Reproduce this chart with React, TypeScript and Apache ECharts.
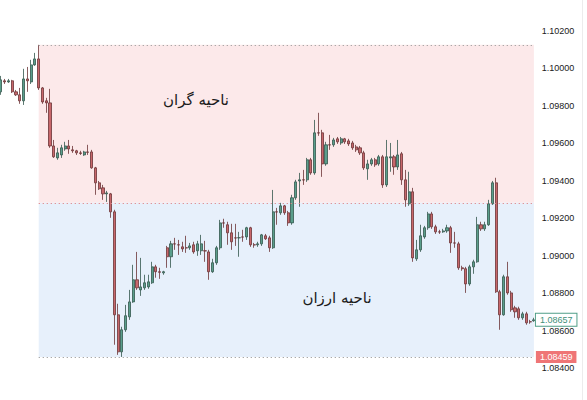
import React, { useEffect, useRef } from "react";
import * as echarts from "echarts";

// OHLC (EUR/USD style prices)
const opens = [
  1.09875, 1.09934, 1.09928, 1.09934, 1.09875, 1.09859, 1.09827, 1.09944, 1.09928, 1.10019,
  1.10051, 1.09896, 1.09827, 1.09816, 1.09586, 1.09522, 1.09538, 1.09570, 1.09586, 1.09565,
  1.09560, 1.09549, 1.09538, 1.09554, 1.09554, 1.09469, 1.09389, 1.09362, 1.09330, 1.09330,
  1.09234, 1.08684, 1.08486, 1.08604, 1.08673, 1.08753, 1.08871, 1.08817, 1.08828, 1.08833,
  1.08855, 1.08940, 1.08914, 1.08908, 1.09042, 1.08994, 1.09063, 1.09058, 1.09047, 1.09042,
  1.09042, 1.09058, 1.09026, 1.09026, 1.09026, 1.09020, 1.08914, 1.08962, 1.09042, 1.09175,
  1.09165, 1.09122, 1.09095, 1.09095, 1.09100, 1.09100, 1.09149, 1.09058, 1.09058, 1.09063,
  1.09106, 1.09095, 1.09042, 1.09234, 1.09229, 1.09266, 1.09229, 1.09175, 1.09309, 1.09399,
  1.09405, 1.09405, 1.09512, 1.09442, 1.09656, 1.09656, 1.09490, 1.09592, 1.09592, 1.09624,
  1.09602, 1.09624, 1.09613, 1.09602, 1.09581, 1.09576, 1.09549, 1.09464, 1.09490, 1.09512,
  1.09490, 1.09528, 1.09378, 1.09522, 1.09528, 1.09474, 1.09544, 1.09405, 1.09277, 1.09341,
  1.08983, 1.09031, 1.09100, 1.09149, 1.09223, 1.09154, 1.09127, 1.09127, 1.09132, 1.09149,
  1.09068, 1.09063, 1.08935, 1.08930, 1.08849, 1.08940, 1.08967, 1.09165, 1.09143, 1.09165,
  1.09277, 1.09389, 1.08807, 1.08684, 1.08887, 1.08801, 1.08721, 1.08716, 1.08668, 1.08689,
  1.08647, 1.08652,
];
const closes = [
  1.09939, 1.09928, 1.09934, 1.09875, 1.09859, 1.09827, 1.09944, 1.09934, 1.10019, 1.10051,
  1.09896, 1.09821, 1.09816, 1.09586, 1.09528, 1.09549, 1.09576, 1.09586, 1.09570, 1.09560,
  1.09549, 1.09546, 1.09554, 1.09552, 1.09469, 1.09389, 1.09357, 1.09330, 1.09335, 1.09234,
  1.08684, 1.08486, 1.08604, 1.08679, 1.08753, 1.08871, 1.08828, 1.08833, 1.08855, 1.08860,
  1.08940, 1.08914, 1.08911, 1.08914, 1.08994, 1.09063, 1.09062, 1.09057, 1.09036, 1.09041,
  1.09052, 1.09020, 1.09063, 1.09063, 1.09025, 1.08914, 1.08962, 1.09042, 1.09175, 1.09174,
  1.09122, 1.09074, 1.09094, 1.09096, 1.09099, 1.09149, 1.09058, 1.09057, 1.09063, 1.09111,
  1.09090, 1.09042, 1.09234, 1.09233, 1.09266, 1.09229, 1.09175, 1.09309, 1.09394, 1.09405,
  1.09404, 1.09512, 1.09442, 1.09656, 1.09655, 1.09490, 1.09592, 1.09591, 1.09618, 1.09608,
  1.09624, 1.09608, 1.09597, 1.09576, 1.09565, 1.09549, 1.09469, 1.09490, 1.09512, 1.09485,
  1.09528, 1.09378, 1.09528, 1.09528, 1.09474, 1.09538, 1.09405, 1.09298, 1.09341, 1.08988,
  1.09031, 1.09106, 1.09149, 1.09223, 1.09154, 1.09127, 1.09126, 1.09132, 1.09149, 1.09068,
  1.09067, 1.08935, 1.08930, 1.08849, 1.08940, 1.08967, 1.09165, 1.09143, 1.09165, 1.09277,
  1.09389, 1.08807, 1.08684, 1.08887, 1.08801, 1.08711, 1.08700, 1.08668, 1.08689, 1.08641,
  1.08646, 1.08657,
];
const highs = [
  1.09960, 1.09944, 1.09944, 1.09939, 1.09885, 1.09896, 1.09998, 1.10008, 1.10046, 1.10083,
  1.10126, 1.09901, 1.09843, 1.09891, 1.09618, 1.09576, 1.09592, 1.09608, 1.09618, 1.09586,
  1.09565, 1.09560, 1.09560, 1.09592, 1.09565, 1.09474, 1.09399, 1.09378, 1.09346, 1.09335,
  1.09245, 1.08743, 1.08620, 1.08737, 1.08817, 1.08951, 1.09020, 1.08988, 1.08898, 1.08898,
  1.08967, 1.08951, 1.08935, 1.08919, 1.09052, 1.09079, 1.09095, 1.09084, 1.09074, 1.09106,
  1.09068, 1.09074, 1.09079, 1.09111, 1.09079, 1.09031, 1.08983, 1.09052, 1.09191, 1.09197,
  1.09181, 1.09170, 1.09170, 1.09127, 1.09138, 1.09154, 1.09154, 1.09068, 1.09074, 1.09116,
  1.09116, 1.09106, 1.09351, 1.09255, 1.09282, 1.09271, 1.09239, 1.09325, 1.09405, 1.09442,
  1.09458, 1.09522, 1.09522, 1.09725, 1.09763, 1.09672, 1.09608, 1.09645, 1.09629, 1.09634,
  1.09634, 1.09629, 1.09624, 1.09613, 1.09592, 1.09586, 1.09560, 1.09512, 1.09522, 1.09522,
  1.09538, 1.09538, 1.09618, 1.09602, 1.09538, 1.09618, 1.09554, 1.09458, 1.09448, 1.09362,
  1.09084, 1.09165, 1.09159, 1.09234, 1.09234, 1.09165, 1.09138, 1.09143, 1.09165, 1.09159,
  1.09127, 1.09074, 1.08946, 1.08940, 1.08951, 1.08978, 1.09207, 1.09181, 1.09181, 1.09298,
  1.09399, 1.09416, 1.08817, 1.08898, 1.08967, 1.08812, 1.08732, 1.08727, 1.08700, 1.08700,
  1.08657, 1.08668,
];
const lows = [
  1.09859, 1.09917, 1.09923, 1.09869, 1.09853, 1.09811, 1.09805, 1.09875, 1.09917, 1.10014,
  1.09885, 1.09811, 1.09763, 1.09576, 1.09522, 1.09512, 1.09522, 1.09560, 1.09544, 1.09549,
  1.09538, 1.09538, 1.09533, 1.09538, 1.09464, 1.09325, 1.09351, 1.09298, 1.09287, 1.09202,
  1.08524, 1.08470, 1.08459, 1.08593, 1.08657, 1.08748, 1.08817, 1.08785, 1.08817, 1.08823,
  1.08849, 1.08882, 1.08876, 1.08898, 1.08935, 1.08935, 1.09031, 1.09004, 1.09020, 1.09015,
  1.09031, 1.09010, 1.08999, 1.09004, 1.08967, 1.08871, 1.08908, 1.08951, 1.09031, 1.09149,
  1.09058, 1.09031, 1.09052, 1.08994, 1.09074, 1.09084, 1.09047, 1.09042, 1.09047, 1.09052,
  1.09084, 1.09020, 1.09036, 1.09165, 1.09218, 1.09218, 1.09159, 1.09165, 1.09298, 1.09261,
  1.09378, 1.09394, 1.09432, 1.09432, 1.09640, 1.09421, 1.09480, 1.09565, 1.09581, 1.09597,
  1.09592, 1.09597, 1.09586, 1.09565, 1.09554, 1.09538, 1.09458, 1.09405, 1.09480, 1.09474,
  1.09480, 1.09362, 1.09367, 1.09448, 1.09432, 1.09458, 1.09378, 1.09261, 1.09266, 1.08967,
  1.08972, 1.09020, 1.09090, 1.09138, 1.09143, 1.09116, 1.09116, 1.09122, 1.09122, 1.09015,
  1.09042, 1.08924, 1.08919, 1.08801, 1.08839, 1.08903, 1.08962, 1.09132, 1.09132, 1.09159,
  1.09271, 1.08801, 1.08604, 1.08679, 1.08791, 1.08700, 1.08668, 1.08657, 1.08657, 1.08631,
  1.08636, 1.08647,
];

// Price levels drawn as zones / lines
const ZONE_TOP = 1.10126;
const ZONE_MID = 1.09282;
const ZONE_BOTTOM = 1.08459;
const LAST_PRICE = 1.08657;
const ZONE_START_INDEX = 10;

const AXIS_MIN = 1.082;
const AXIS_MAX = 1.104;
const AXIS_STEP = 0.002;

const EXPENSIVE_LABEL = "ناحیه گران";
const CHEAP_LABEL = "ناحیه ارزان";

const UP = "#5a9e8b";
const DOWN = "#c8676b";

// the chart canvas is a little larger than the window, shifted so that the
// 1.104 / 1.082 axis ends fall just outside the visible frame
const SHIFT_X = 5;
const SHIFT_Y = 10;

export default function App() {
  const ref = useRef<HTMLDivElement>(null);

  useEffect(() => {
    if (!ref.current) return;
    const chart = echarts.init(ref.current, null, { renderer: "svg" });
    const cats = opens.map((_, i) => String(i));
    const data = opens.map((o, i) => [o, closes[i], lows[i], highs[i]]);
    const first = cats[ZONE_START_INDEX];
    const last = cats[cats.length - 1];
    const beforeLast = cats[cats.length - 2];
    const font = "Liberation Sans";
    const dotted = [1.2, 2.8];

    chart.setOption({
      animation: false,
      backgroundColor: "#ffffff",
      grid: { left: 4, right: 51.2, top: 3.56, bottom: 4.6, containLabel: false },
      title: [
        {
          text: EXPENSIVE_LABEL,
          left: 196 + SHIFT_X,
          top: 100 + SHIFT_Y,
          textAlign: "center",
          textVerticalAlign: "middle",
          padding: 0,
          textStyle: {
            fontSize: 15,
            fontWeight: "normal",
            fontFamily: "DejaVu Sans",
            color: "#1c1c1c",
          },
        },
        {
          text: CHEAP_LABEL,
          left: 337 + SHIFT_X,
          top: 298 + SHIFT_Y,
          textAlign: "center",
          textVerticalAlign: "middle",
          padding: 0,
          textStyle: {
            fontSize: 15,
            fontWeight: "normal",
            fontFamily: "DejaVu Sans",
            color: "#1c1c1c",
          },
        },
      ],
      xAxis: {
        type: "category",
        data: cats,
        boundaryGap: true,
        show: false,
      },
      yAxis: {
        type: "value",
        position: "right",
        min: AXIS_MIN,
        max: AXIS_MAX,
        interval: AXIS_STEP,
        axisLine: { show: false },
        axisTick: { show: false },
        splitLine: { show: false },
        axisLabel: {
          showMinLabel: false,
          showMaxLabel: false,
          margin: 6,
          fontSize: 9,
          fontFamily: font,
          color: "#1a1a1a",
          formatter: (v: number) => v.toFixed(5),
        },
      },
      series: [
        {
          type: "candlestick",
          data,
          barWidth: 2.6,
          itemStyle: {
            color: UP,
            color0: DOWN,
            borderColor: "#33574d",
            borderColor0: "#6b3336",
            borderWidth: 0.8,
          },
          markArea: {
            silent: true,
            data: [
              [
                { xAxis: first, yAxis: ZONE_TOP, itemStyle: { color: "#fce9ea" } },
                { xAxis: last, yAxis: ZONE_MID },
              ],
              [
                { xAxis: first, yAxis: ZONE_MID, itemStyle: { color: "#e7f0fb" } },
                { xAxis: last, yAxis: ZONE_BOTTOM },
              ],
            ],
          },
          markLine: {
            silent: true,
            symbol: ["none", "none"],
            data: [
              [
                {
                  xAxis: first,
                  yAxis: ZONE_TOP,
                  lineStyle: { color: "#a0a0a0", type: dotted, width: 1 },
                  label: { show: false },
                },
                { xAxis: last, yAxis: ZONE_TOP },
              ],
              [
                {
                  xAxis: first,
                  yAxis: ZONE_MID,
                  lineStyle: { color: "#e0888b", type: dotted, width: 1 },
                  label: { show: false },
                },
                { xAxis: last, yAxis: ZONE_MID },
              ],
              [
                {
                  xAxis: first,
                  yAxis: ZONE_BOTTOM,
                  lineStyle: { color: "#a0a0a0", type: dotted, width: 1 },
                  label: {
                    show: true,
                    position: "end",
                    distance: 2,
                    formatter: ZONE_BOTTOM.toFixed(5),
                    backgroundColor: "#ef7576",
                    color: "#ffffff",
                    fontSize: 9,
                    fontFamily: font,
                    padding: [2, 4, 1, 4],
                  },
                },
                { xAxis: last, yAxis: ZONE_BOTTOM },
              ],
              [
                {
                  xAxis: beforeLast,
                  yAxis: LAST_PRICE,
                  lineStyle: { color: "rgba(0,0,0,0)", width: 1 },
                  label: {
                    show: true,
                    position: "end",
                    distance: 2,
                    formatter: LAST_PRICE.toFixed(5),
                    backgroundColor: "#ffffff",
                    borderColor: "#4f9e88",
                    borderWidth: 1,
                    color: "#3f8f79",
                    fontSize: 9,
                    fontFamily: font,
                    padding: [2, 4, 1, 4],
                  },
                },
                { xAxis: last, yAxis: LAST_PRICE },
              ],
            ],
          },
        },
      ],
      graphic: [
        {
          type: "line",
          silent: true,
          shape: { x1: 582.5 + SHIFT_X, y1: 0, x2: 582.5 + SHIFT_X, y2: 420 },
          style: { stroke: "#ececec", lineWidth: 1 },
        },
      ],
    });

    return () => chart.dispose();
  }, []);

  return (
    <div
      style={{
        position: "fixed",
        left: 0,
        top: 0,
        width: 587,
        height: 400,
        overflow: "hidden",
        background: "#ffffff",
      }}
    >
      <div
        ref={ref}
        style={{
          position: "absolute",
          left: -SHIFT_X,
          top: -SHIFT_Y,
          width: 587 + SHIFT_X,
          height: 400 + 2 * SHIFT_Y,
        }}
      />
    </div>
  );
}
